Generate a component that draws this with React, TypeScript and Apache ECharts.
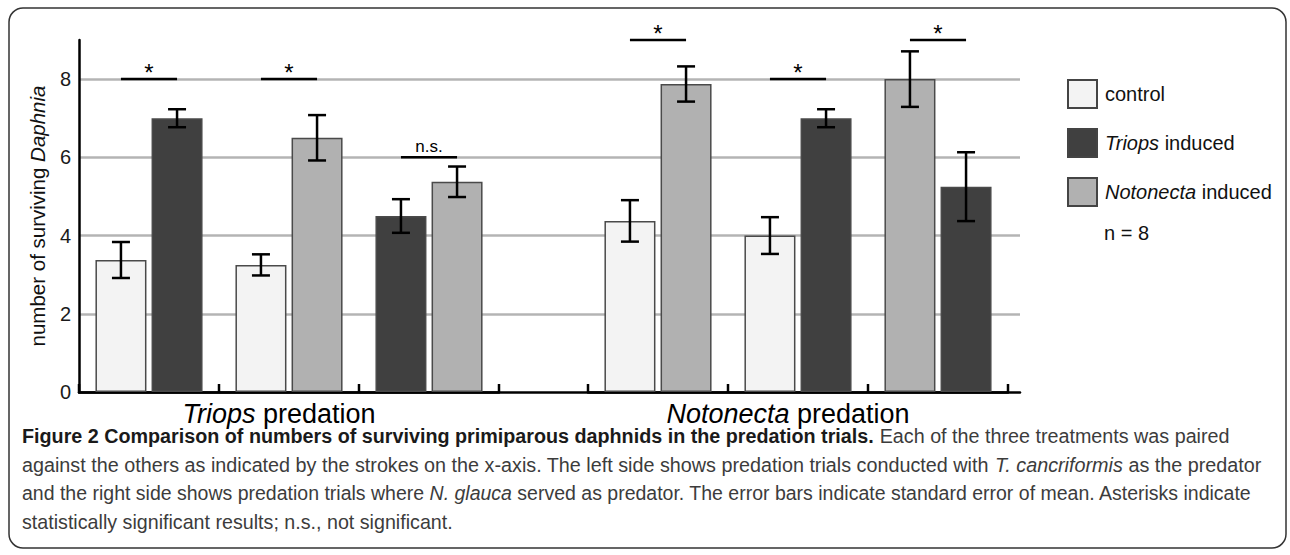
import React, { useEffect, useRef } from "react";
import * as echarts from "echarts";

// ---------- data ----------
const treatments = ["control", "Triops induced", "Notonecta induced"];
const treatmentColors = ["#f3f3f3", "#404040", "#b1b1b1"];
const predations = ["Triops predation", "Notonecta predation"];

const triopsPairs = ["control | Triops", "control | Notonecta", "Triops | Notonecta"];
const triopsLeftTreat = [0, 0, 1];
const triopsRightTreat = [1, 2, 2];
const triopsLeftMean = [3.375, 3.25, 4.5];
const triopsLeftSE = [0.46, 0.27, 0.43];
const triopsRightMean = [7.0, 6.5, 5.375];
const triopsRightSE = [0.23, 0.58, 0.39];
const triopsSig = ["*", "*", "n.s."];
const triopsSigY = [8, 8, 6];

const notoPairs = ["control | Notonecta", "control | Triops", "Notonecta | Triops"];
const notoLeftTreat = [0, 0, 2];
const notoRightTreat = [2, 1, 1];
const notoLeftMean = [4.375, 4.0, 8.0];
const notoLeftSE = [0.53, 0.47, 0.71];
const notoRightMean = [7.875, 7.0, 5.25];
const notoRightSE = [0.45, 0.23, 0.88];
const notoSig = ["*", "*", "*"];
const notoSigY = [9, 8, 9];

const yMin = 0;
const yMax = 9;
const yInterval = 2;
const sampleNote = "n = 8";

const captionLines: [string, string][][] = [
  [
    ["b", "Figure 2 Comparison of numbers of surviving primiparous daphnids in the predation trials."],
    ["r", " Each of the three treatments was paired"],
  ],
  [
    ["r", "against the others as indicated by the strokes on the x-axis. The left side shows predation trials conducted with "],
    ["i", "T. cancriformis"],
    ["r", " as the predator"],
  ],
  [
    ["r", "and the right side shows predation trials where "],
    ["i", "N. glauca"],
    ["r", " served as predator. The error bars indicate standard error of mean. Asterisks indicate"],
  ],
  [["r", "statistically significant results; n.s., not significant."]],
];
const captionTargetWidths = [1208, 1240, 1230, 0];

// ---------- styling ----------
const FONT = "'Liberation Sans', Arial, sans-serif";
const CAP_FONT = "'Liberation Sans Narrow', 'Liberation Sans', Arial, sans-serif";
const CAP_SIZE = 20;
const BAR_W = 51;
const BAR_GAP = 0.1;
const HALF_PAIR = (BAR_W * (1 + BAR_GAP)) / 2;

function measure(line: [string, string][]) {
  const c = document.createElement("canvas").getContext("2d")!;
  let w = 0;
  for (const [k, t] of line) {
    c.font = `${k === "i" ? "italic " : ""}${k === "b" ? "bold " : ""}${CAP_SIZE}px ${CAP_FONT}`;
    w += c.measureText(t).width;
  }
  return w;
}

function errorSeries(axis: number, lm: number[], ls: number[], rm: number[], rs: number[]) {
  const data: number[][] = [];
  lm.forEach((v, i) => data.push([i, v, ls[i], -1]));
  rm.forEach((v, i) => data.push([i, v, rs[i], 1]));
  return {
    type: "custom",
    xAxisIndex: axis,
    yAxisIndex: axis,
    z: 5,
    silent: true,
    data,
    encode: { x: 0, y: 1 },
    renderItem: (params: any, api: any) => {
      const c = api.value(0);
      const m = api.value(1);
      const se = api.value(2);
      const side = api.value(3);
      const top = api.coord([c, m + se]);
      const bot = api.coord([c, m - se]);
      const x = top[0] + side * HALF_PAIR;
      const cap = 9;
      const st = { stroke: "#000", lineWidth: 2.5 };
      return {
        type: "group",
        children: [
          { type: "line", shape: { x1: x, y1: top[1], x2: x, y2: bot[1] }, style: st },
          { type: "line", shape: { x1: x - cap, y1: top[1], x2: x + cap, y2: top[1] }, style: st },
          { type: "line", shape: { x1: x - cap, y1: bot[1], x2: x + cap, y2: bot[1] }, style: st },
        ],
      };
    },
  };
}

// small upward strokes at the boundaries between the pairs (category edges)
function boundaryTickSeries(axis: number, n: number) {
  const data: number[][] = [];
  for (let i = 0; i < n; i++) data.push([i, 0]);
  return {
    type: "custom",
    xAxisIndex: axis,
    yAxisIndex: axis,
    z: 7,
    silent: true,
    data,
    encode: { x: 0, y: 1 },
    renderItem: (params: any, api: any) => {
      const p = api.coord([api.value(0), 0]);
      const half = api.size([1, 0])[0] / 2;
      const children: any[] = [];
      const xs = params.dataIndex === 0 ? [p[0] - half, p[0] + half] : [p[0] + half];
      xs.forEach((x) =>
        children.push({
          type: "line",
          shape: { x1: x, y1: p[1], x2: x, y2: p[1] - 8 },
          style: { stroke: "#000", lineWidth: 2.5 },
        })
      );
      return { type: "group", children };
    },
  };
}

function sigSeries(axis: number, ys: number[], labels: string[]) {
  return {
    type: "custom",
    xAxisIndex: axis,
    yAxisIndex: axis,
    z: 6,
    silent: true,
    data: ys.map((y, i) => [i, y]),
    encode: { x: 0, y: 1 },
    renderItem: (params: any, api: any) => {
      const p = api.coord([api.value(0), api.value(1)]);
      const label = labels[params.dataIndex];
      const star = label === "*";
      return {
        type: "group",
        children: [
          {
            type: "line",
            shape: { x1: p[0] - HALF_PAIR, y1: p[1], x2: p[0] + HALF_PAIR, y2: p[1] },
            style: { stroke: "#000", lineWidth: 2.5 },
          },
          {
            type: "text",
            x: p[0],
            y: star ? p[1] + 5 : p[1] - 2,
            style: {
              text: label,
              fontSize: star ? 24 : 17,
              fontFamily: FONT,
              fill: "#000",
              align: "center",
              verticalAlign: "bottom",
            },
          },
        ],
      };
    },
  };
}

function barPair(axis: number, lm: number[], lt: number[], rm: number[], rt: number[]) {
  const base = {
    type: "bar",
    xAxisIndex: axis,
    yAxisIndex: axis,
    barWidth: BAR_W,
    barGap: `${BAR_GAP * 100}%`,
    silent: true,
    itemStyle: { borderColor: "#4a4a4a", borderWidth: 1.5 },
  };
  return [
    { ...base, name: `left${axis}`, data: lm.map((v, i) => ({ value: v, itemStyle: { color: treatmentColors[lt[i]] } })) },
    { ...base, name: `right${axis}`, data: rm.map((v, i) => ({ value: v, itemStyle: { color: treatmentColors[rt[i]] } })) },
  ];
}

function catAxis(grid: number, data: string[], name: string) {
  const words = name.split(" ");
  return {
    gridIndex: grid,
    type: "category",
    data,
    axisLine: { show: true, lineStyle: { color: "#000", width: 2.5 } },
    axisTick: { show: false },
    axisLabel: { show: false },
    splitLine: { show: false },
    name: `{i|${words[0]}} ${words.slice(1).join(" ")}`,
    nameLocation: "middle",
    nameGap: 8,
    nameTextStyle: {
      fontSize: 27,
      fontFamily: FONT,
      color: "#000",
      verticalAlign: "top",
      padding: [0, 20, 0, 0],
      rich: { i: { fontStyle: "italic", fontSize: 27, fontFamily: FONT, color: "#000" } },
    },
  };
}

export default function App() {
  const ref = useRef<HTMLDivElement>(null);
  useEffect(() => {
    if (!ref.current) return;
    const chart = echarts.init(ref.current, undefined, { renderer: "svg" });

    let scaleSum = 0;
    let scaleN = 0;
    const scales = captionLines.map((ln, i) => {
      if (!captionTargetWidths[i]) return 0;
      const s = captionTargetWidths[i] / measure(ln);
      scaleSum += s;
      scaleN++;
      return s;
    });
    const avgScale = scaleSum / scaleN;
    const captionGraphics = captionLines.map((ln, i) => ({
      type: "text",
      x: 22,
      y: 436 + i * 28.7,
      scaleX: scales[i] || avgScale,
      style: {
        text: ln.map(([k, t]) => `{${k}|${t}}`).join(""),
        verticalAlign: "middle",
        align: "left",
        rich: {
          b: { fontWeight: "bold", fontSize: CAP_SIZE, fontFamily: CAP_FONT, fill: "#1a1a1a" },
          r: { fontSize: CAP_SIZE, fontFamily: CAP_FONT, fill: "#3c3c3c" },
          i: { fontStyle: "italic", fontSize: CAP_SIZE, fontFamily: CAP_FONT, fill: "#3c3c3c" },
        },
      },
    }));

    chart.setOption({
      animation: false,
      backgroundColor: "#fff",
      textStyle: { fontFamily: FONT },
      grid: [
        { left: 79, top: 40, width: 941, height: 352 },
        { left: 79, top: 40, width: 420, height: 352 },
        { left: 588, top: 40, width: 420, height: 352 },
      ],
      xAxis: [
        {
          gridIndex: 0,
          type: "value",
          min: 0,
          max: 1,
          axisLine: { show: true, lineStyle: { color: "#000", width: 2.5 } },
          axisTick: { show: false },
          axisLabel: { show: false },
          splitLine: { show: false },
        },
        catAxis(1, triopsPairs, predations[0]),
        catAxis(2, notoPairs, predations[1]),
      ],
      yAxis: [
        {
          gridIndex: 0,
          type: "value",
          min: yMin,
          max: yMax,
          interval: yInterval,
          axisLine: { show: true, lineStyle: { color: "#000", width: 2.5 } },
          axisTick: { show: false },
          axisLabel: { fontSize: 20, color: "#1a1a1a", margin: 8, showMaxLabel: false, fontFamily: FONT },
          splitLine: { show: true, showMinLine: false, showMaxLine: false, lineStyle: { color: "#b4b4b4", width: 2.5 } },
          name: "number of surviving {i|Daphnia}",
          nameLocation: "middle",
          nameRotate: 90,
          nameGap: 31,
          nameTextStyle: {
            fontSize: 20.5,
            color: "#111",
            fontFamily: FONT,
            rich: { i: { fontStyle: "italic", fontSize: 20.5, color: "#111", fontFamily: FONT } },
          },
        },
        { gridIndex: 1, type: "value", min: yMin, max: yMax, show: false },
        { gridIndex: 2, type: "value", min: yMin, max: yMax, show: false },
      ],
      legend: {
        data: treatments,
        orient: "vertical",
        left: 1067,
        top: 79,
        padding: 0,
        itemWidth: 29,
        itemHeight: 28,
        itemGap: 19,
        icon: "rect",
        selectedMode: false,
        formatter: (name: string) => {
          const w = name.split(" ");
          return w.length > 1 ? `{i|${w[0]}} ${w.slice(1).join(" ")}` : name;
        },
        textStyle: {
          fontSize: 20,
          color: "#111",
          fontFamily: FONT,
          padding: [0, 0, 0, 3],
          rich: { i: { fontStyle: "italic", fontSize: 20, color: "#111", fontFamily: FONT } },
        },
      },
      series: [
        ...treatments.map((t, i) => ({
          type: "bar",
          name: t,
          xAxisIndex: 0,
          yAxisIndex: 0,
          data: [],
          itemStyle: { color: treatmentColors[i], borderColor: "#444", borderWidth: 1.5 },
        })),
        ...barPair(1, triopsLeftMean, triopsLeftTreat, triopsRightMean, triopsRightTreat),
        ...barPair(2, notoLeftMean, notoLeftTreat, notoRightMean, notoRightTreat),
        errorSeries(1, triopsLeftMean, triopsLeftSE, triopsRightMean, triopsRightSE),
        errorSeries(2, notoLeftMean, notoLeftSE, notoRightMean, notoRightSE),
        sigSeries(1, triopsSigY, triopsSig),
        sigSeries(2, notoSigY, notoSig),
        boundaryTickSeries(1, triopsPairs.length),
        boundaryTickSeries(2, notoPairs.length),
      ],
      graphic: [
        {
          type: "rect",
          z: -10,
          shape: { x: 9, y: 8, width: 1277, height: 540, r: 14 },
          style: { fill: "none", stroke: "#333", lineWidth: 1.5 },
        },
        {
          type: "text",
          x: 1104,
          y: 233,
          style: { text: sampleNote, fontSize: 20, fontFamily: FONT, fill: "#111", verticalAlign: "middle" },
        },
        ...captionGraphics,
      ],
    });
    return () => chart.dispose();
  }, []);
  return <div ref={ref} style={{ position: "fixed", left: 0, top: 0, width: 1290, height: 555 }} />;
}
